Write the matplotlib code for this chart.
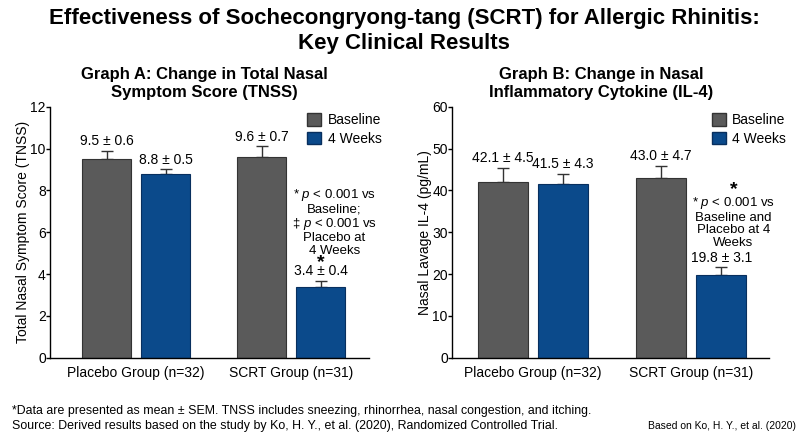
import numpy as np
import matplotlib
matplotlib.use('Agg')
import matplotlib.pyplot as plt
from matplotlib.patches import Patch

plt.rcParams['font.family'] = ['Liberation Sans', 'DejaVu Sans']
plt.rcParams['mathtext.fontset'] = 'custom'
plt.rcParams['mathtext.it'] = 'Liberation Sans:italic'
plt.rcParams['mathtext.rm'] = 'Liberation Sans'

groups = ['Placebo Group (n=32)', 'SCRT Group (n=31)']

# Graph A: TNSS
tnss_base = [9.5, 9.6]
tnss_4wk = [8.8, 3.4]
tnss_base_sem = [0.6, 0.7]
tnss_4wk_sem = [0.5, 0.4]
# whisker lengths as drawn in the figure
tnss_base_bar = [0.4, 0.5]
tnss_4wk_bar = [0.2, 0.27]

# Graph B: IL-4
il4_base = [42.1, 43.0]
il4_4wk = [41.5, 19.8]
il4_base_sem = [4.5, 4.7]
il4_4wk_sem = [4.3, 3.1]
il4_base_bar = [3.2, 2.9]
il4_4wk_bar = [2.4, 1.8]

GRAY = '#5a5a5a'
BLUE = '#0b4a8b'
GRAY_EDGE = '#333333'
BLUE_EDGE = '#082f5e'

W = 0.316
OFF = 0.19


def draw_panel(ax, base, wk, base_sem, wk_sem, base_bar, wk_bar, ymax, ystep, ylabel, xlim, leg_x):
    x = np.arange(len(groups))
    ax.bar(x - OFF, base, W, color=GRAY, edgecolor=GRAY_EDGE, linewidth=0.8, zorder=2)
    ax.bar(x + OFF, wk, W, color=BLUE, edgecolor=BLUE_EDGE, linewidth=0.8, zorder=2)
    ax.errorbar(x - OFF, base, yerr=[[0] * len(x), base_bar], fmt='none',
                ecolor='#333333', elinewidth=1, capsize=4, capthick=1, zorder=1)
    ax.errorbar(x + OFF, wk, yerr=[[0] * len(x), wk_bar], fmt='none',
                ecolor='#333333', elinewidth=1, capsize=4, capthick=1, zorder=1)
    for xs, vals, sems, errs in [(x - OFF, base, base_sem, base_bar), (x + OFF, wk, wk_sem, wk_bar)]:
        for xi, v, s, e in zip(xs, vals, sems, errs):
            ax.annotate(f'{v:.1f} ± {s:.1f}', (xi, v + e), xytext=(0, 2),
                        textcoords='offset points', ha='center', va='bottom', fontsize=10)
    ax.set_xlim(*xlim)
    ax.set_ylim(0, ymax)
    ax.set_yticks(np.arange(0, ymax + 0.1, ystep))
    ax.set_xticks(x)
    ax.set_xticklabels(groups, fontsize=10)
    ax.tick_params(axis='x', length=0, pad=6)
    ax.tick_params(axis='y', labelsize=10, length=3, width=1, direction='out', pad=0)
    ax.set_ylabel(ylabel, fontsize=10, labelpad=0)
    for s in ['top', 'right']:
        ax.spines[s].set_visible(False)
    for s in ['left', 'bottom']:
        ax.spines[s].set_linewidth(1)
    handles = [Patch(facecolor=GRAY, edgecolor=GRAY_EDGE, label='Baseline'),
               Patch(facecolor=BLUE, edgecolor=BLUE_EDGE, label='4 Weeks')]
    ax.legend(handles=handles, loc='upper left', bbox_to_anchor=(leg_x, 1.012),
              frameon=False, fontsize=10, handlelength=1.0, handleheight=1.0,
              handletextpad=0.45, labelspacing=0.3, borderpad=0.2)


fig = plt.figure(figsize=(8, 4.36), dpi=100)
ax1 = fig.add_axes([0.0625, 0.1796, 0.399, 0.5757])
ax2 = fig.add_axes([0.565, 0.1796, 0.396, 0.5757])

draw_panel(ax1, tnss_base, tnss_4wk, tnss_base_sem, tnss_4wk_sem, tnss_base_bar, tnss_4wk_bar,
           12, 2, 'Total Nasal Symptom Score (TNSS)', (-0.555, 1.503), 0.776)
draw_panel(ax2, il4_base, il4_4wk, il4_base_sem, il4_4wk_sem, il4_base_bar, il4_4wk_bar,
           60, 10, 'Nasal Lavage IL-4 (pg/mL)', (-0.513, 1.49), 0.79)

# significance notes
ax1.text(1 + OFF, 4.57, '*', ha='center', va='center', fontsize=14, fontweight='bold')
ax1.text(1.28, 6.49, '* $p$ < 0.001 vs\nBaseline;\n‡ $p$ < 0.001 vs\nPlacebo at\n4 Weeks',
         ha='center', va='center', fontsize=9.5, linespacing=1.05)
ax2.text(1.266, 40.1, '*', ha='center', va='center', fontsize=14, fontweight='bold')
ax2.text(1.266, 32.4, '* $p$ < 0.001 vs\nBaseline and\nPlacebo at 4\nWeeks',
         ha='center', va='center', fontsize=9.5, linespacing=1.05)

fig.text(0.256, 0.8085, 'Graph A: Change in Total Nasal\nSymptom Score (TNSS)',
         ha='center', va='center', fontsize=12, fontweight='bold', linespacing=1.2)
fig.text(0.752, 0.8085, 'Graph B: Change in Nasal\nInflammatory Cytokine (IL-4)',
         ha='center', va='center', fontsize=12, fontweight='bold', linespacing=1.2)

fig.text(0.505, 0.93, 'Effectiveness of Sochecongryong-tang (SCRT) for Allergic Rhinitis:\nKey Clinical Results',
         ha='center', va='center', fontsize=16, fontweight='bold', linespacing=1.25)

fig.text(0.015, 0.058, '*Data are presented as mean ± SEM. TNSS includes sneezing, rhinorrhea, nasal congestion, and itching.',
         ha='left', va='center', fontsize=8.9)
fig.text(0.015, 0.024, 'Source: Derived results based on the study by Ko, H. Y., et al. (2020), Randomized Controlled Trial.',
         ha='left', va='center', fontsize=8.9)
fig.text(0.995, 0.024, 'Based on Ko, H. Y., et al. (2020)', ha='right', va='center', fontsize=7.5)

fig.savefig('out.png', dpi=100)
